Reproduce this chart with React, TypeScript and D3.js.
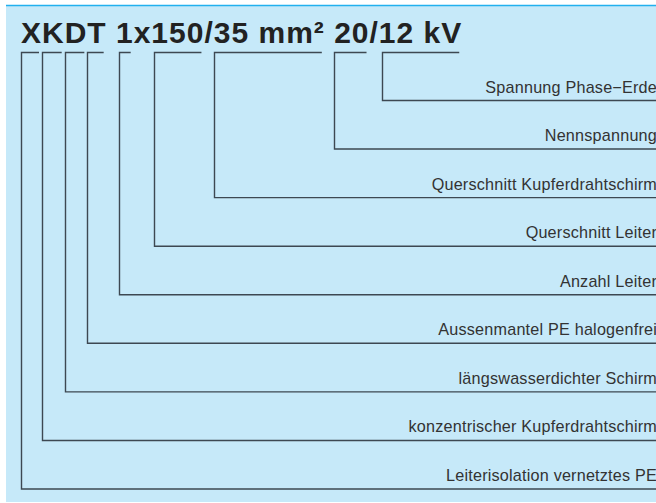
import { useEffect, useRef } from 'react';
import * as d3 from 'd3';

// type designation and what each part of it means
const title = 'XKDT 1x150/35 mm² 20/12 kV';

// labels, top row first
const labels = [
  'Spannung Phase\u2212Erde',
  'Nennspannung',
  'Querschnitt Kupferdrahtschirm',
  'Querschnitt Leiter',
  'Anzahl Leiter',
  'Aussenmantel PE halogenfrei',
  'längswasserdichter Schirm',
  'konzentrischer Kupferdrahtschirm',
  'Leiterisolation vernetztes PE',
];

// which characters of the title each label points at (first, last)
const charFrom = [21, 18, 11, 7, 5, 3, 2, 1, 0];
const charTo = [25, 19, 16, 9, 5, 3, 2, 1, 0];

const W = 656;
const H = 503;

const App = () => {
  const svgRef = useRef<SVGSVGElement>(null);

  useEffect(() => {
    const svg = d3.select(svgRef.current);
    svg.selectAll('*').remove();

    const margin = { left: 6, top: 5 };

    svg.append('rect')
      .attr('x', margin.left)
      .attr('y', margin.top)
      .attr('width', W - margin.left)
      .attr('height', H - margin.top - 1)
      .attr('fill', '#c6e9f9');

    svg.append('line')
      .attr('x1', margin.left)
      .attr('x2', W)
      .attr('y1', margin.top + 0.5)
      .attr('y2', margin.top + 0.5)
      .attr('stroke', '#22b0ee')
      .attr('stroke-width', 1.5);

    const titleText = svg.append('text')
      .attr('x', 21)
      .attr('y', 43)
      .attr('font-family', '"Liberation Sans", Arial, sans-serif')
      .attr('font-weight', 'bold')
      .attr('font-size', 30)
      .attr('letter-spacing', 1)
      .attr('fill', '#222')
      .text(title);

    const node = titleText.node() as SVGTextElement;

    const yScale = d3.scalePoint<string>()
      .domain(labels)
      .range([100.5, 489]);

    const bracketTop = 52.5;

    labels.forEach((label, i) => {
      // the digit 1 has a wide left bearing, so start the bracket at its ink
      const inset = title[charFrom[i]] === '1' ? 3 : 0;
      const x1 = Math.round(node.getStartPositionOfChar(charFrom[i]).x + inset) + 0.5;
      const x2 = node.getEndPositionOfChar(charTo[i]).x - 3;
      const y = yScale(label) as number;

      // top segment, vertical drop, then out to the right edge
      svg.append('path')
        .attr('d', `M${x2},${bracketTop}H${x1}V${y}H${W}`)
        .attr('fill', 'none')
        .attr('stroke', '#3d4852')
        .attr('stroke-width', 1.4);

      svg.append('text')
        .attr('x', W + 1)
        .attr('y', y - 8)
        .attr('text-anchor', 'end')
        .attr('font-family', '"Liberation Sans", Arial, sans-serif')
        .attr('font-size', 16.2)
        .attr('letter-spacing', 0.2)
        .attr('fill', '#333')
        .text(label);
    });
  }, []);

  return (
    <svg
      ref={svgRef}
      width={W}
      height={H}
      style={{ position: 'absolute', left: 0, top: 0, background: '#fff' }}
    />
  );
};

export default App;
